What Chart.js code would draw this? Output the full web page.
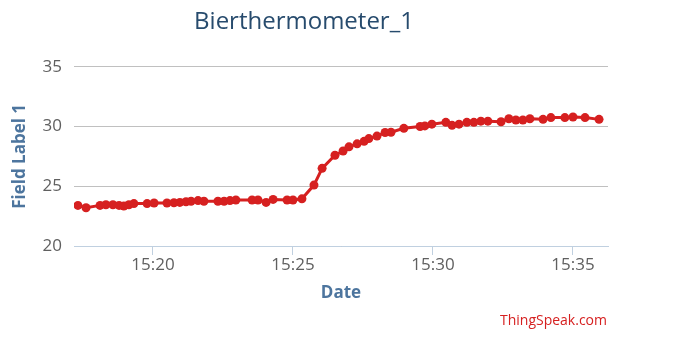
<!DOCTYPE html>
<html>
<head>
<meta charset="utf-8">
<script src="https://cdn.jsdelivr.net/npm/chart.js@4"></script>
<style>
  body { margin: 0; background: #fff; }
  #wrap { position: relative; width: 685px; height: 361px; }
  #credit {
    position: absolute; right: 78px; top: 310px;
    font: 14px "Open Sans", sans-serif; color: #d62020;
  }
</style>
</head>
<body>
<div id="wrap">
  <canvas id="chart" width="685" height="361"></canvas>
  <div id="credit">ThingSpeak.com</div>
</div>
<script>
// minutes after 15:00
const minutes = [
  17.32, 17.61, 18.11, 18.32, 18.57, 18.79, 18.96, 19.14, 19.32, 19.79,
  20.04, 20.50, 20.75, 20.96, 21.18, 21.36, 21.61, 21.82, 22.32, 22.54,
  22.75, 22.96, 23.54, 23.75, 24.04, 24.29, 24.79, 25.00, 25.32, 25.75,
  26.04, 26.50, 26.79, 27.00, 27.29, 27.54, 27.71, 28.00, 28.29, 28.50,
  28.96, 29.54, 29.71, 29.96, 30.46, 30.68, 30.93, 31.21, 31.46, 31.71,
  31.96, 32.43, 32.71, 32.96, 33.21, 33.46, 33.93, 34.21, 34.71, 35.00,
  35.43, 35.93
];
const temps = [
  23.4, 23.2, 23.4, 23.45, 23.45, 23.4, 23.35, 23.45, 23.55, 23.55,
  23.6, 23.6, 23.62, 23.65, 23.7, 23.75, 23.8, 23.75, 23.75, 23.75,
  23.8, 23.85, 23.85, 23.85, 23.65, 23.9, 23.85, 23.85, 23.95, 25.1,
  26.5, 27.6, 27.95, 28.3, 28.55, 28.76, 28.99, 29.2, 29.5, 29.52,
  29.85, 30.0, 30.05, 30.2, 30.35, 30.1, 30.2, 30.35, 30.35, 30.45,
  30.45, 30.4, 30.65, 30.55, 30.55, 30.65, 30.6, 30.75, 30.75, 30.8,
  30.75, 30.6
];
const xTicks = [20, 25, 30, 35];
const yTicks = [20, 25, 30, 35];

const red = '#d62020';
const points = minutes.map((m, i) => ({ x: m, y: temps[i] }));

new Chart(document.getElementById('chart'), {
  type: 'line',
  data: {
    datasets: [{
      label: 'Field Label 1',
      data: points,
      borderColor: red,
      backgroundColor: red,
      borderWidth: 3,
      pointRadius: 4.5,
      pointBackgroundColor: red,
      pointBorderWidth: 0,
      tension: 0
    }]
  },
  options: {
    responsive: false,
    animation: false,
    layout: { padding: { left: 0, right: 77, top: 0, bottom: 58 } },
    plugins: {
      legend: { display: false },
      tooltip: { enabled: false },
      title: {
        display: true,
        text: 'Bierthermometer_1',
        color: '#274b6d',
        font: { family: 'Open Sans', size: 24, weight: 'normal', lineHeight: 1.2 },
        padding: { top: 8, bottom: 30 }
      }
    },
    scales: {
      x: {
        type: 'linear',
        min: 17.18,
        max: 36.25,
        afterBuildTicks: axis => { axis.ticks = xTicks.map(v => ({ value: v })); },
        afterFit: axis => { axis.height = 57; },
        ticks: {
          callback: v => '15:' + v,
          color: '#606060',
          font: { family: 'Open Sans', size: 17 },
          padding: 0,
          maxRotation: 0
        },
        grid: { drawOnChartArea: false, color: '#c0d0e0', tickLength: 9 },
        border: { color: '#c0d0e0', width: 1 },
        title: {
          display: true,
          text: 'Date',
          color: '#4d759e',
          font: { family: 'Open Sans', size: 17, weight: 'bold', lineHeight: 1.2 },
          padding: { top: 0, bottom: 0 }
        }
      },
      y: {
        min: 20,
        max: 35,
        afterBuildTicks: axis => { axis.ticks = yTicks.map(v => ({ value: v })); },
        afterFit: axis => { axis.width = 74; },
        ticks: {
          color: '#606060',
          font: { family: 'Open Sans', size: 17 },
          padding: 12
        },
        grid: { color: '#c0c0c0', drawTicks: false },
        border: { display: false },
        title: {
          display: true,
          text: 'Field Label 1',
          color: '#4d759e',
          font: { family: 'Open Sans', size: 17, weight: 'bold', lineHeight: 1.2 },
          padding: { top: 10, bottom: 0 }
        }
      }
    }
  }
});
</script>
</body>
</html>
